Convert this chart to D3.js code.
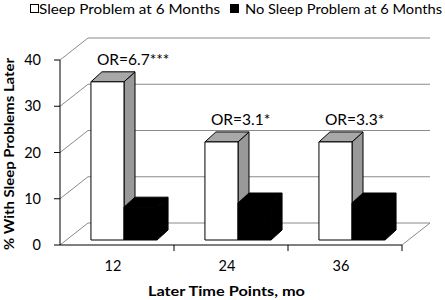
<!DOCTYPE html>
<html>
<head>
<meta charset="utf-8">
<script src="https://cdn.jsdelivr.net/npm/d3@7"></script>
<style>
  body { margin: 0; background: #fff; }
  svg { display: block; font-family: Lato, "Liberation Sans", sans-serif; }
</style>
</head>
<body>
<div class="canvas"></div>
<script>
const dims = { width: 445, height: 300 };

// data
const categories = ['12', '24', '36'];
const series = ['Sleep Problem at 6 Months', 'No Sleep Problem at 6 Months'];
const sleepProblem = [34.2, 21.2, 21.2];
const noSleepProblem = [7.1, 8.0, 8.0];
const orLabels = ['OR=6.7***', 'OR=3.1*', 'OR=3.3*'];
const yTicks = [0, 10, 20, 30, 40];

// 3d offsets
const depth = { dx: 28, dy: -22 };
const barFront = { dx: 7, dy: -5 };
const barDepth = { dx: 11, dy: -10 };

const svg = d3.select('.canvas')
  .append('svg')
    .attr('width', dims.width)
    .attr('height', dims.height);

// scales
const y = d3.scaleLinear()
  .domain([0, 40])
  .range([245, 60]);

const x0 = d3.scaleBand()
  .domain(categories)
  .range([60, 402])
  .paddingInner(0.42)
  .paddingOuter(0.21);

const x1 = d3.scaleBand()
  .domain(series)
  .range([0, x0.bandwidth()]);

const xLeft = 60, xRight = 402;
const grid = '#8a8a8a';

// back wall gridlines + side wall diagonals
const walls = svg.append('g');
yTicks.forEach(v => {
  walls.append('line')
    .attr('x1', xLeft + depth.dx).attr('x2', xRight + depth.dx)
    .attr('y1', y(v) + depth.dy).attr('y2', y(v) + depth.dy)
    .attr('stroke', grid);
  walls.append('line')
    .attr('x1', xLeft).attr('x2', xLeft + depth.dx)
    .attr('y1', y(v)).attr('y2', y(v) + depth.dy)
    .attr('stroke', grid);
});
// floor right edge
walls.append('line')
  .attr('x1', xRight).attr('x2', xRight + depth.dx)
  .attr('y1', y(0)).attr('y2', y(0) + depth.dy)
  .attr('stroke', grid);

// axes
const axes = svg.append('g').attr('stroke', '#000');
axes.append('line')
  .attr('x1', xLeft).attr('x2', xLeft)
  .attr('y1', y(40)).attr('y2', y(0));
yTicks.forEach(v => {
  axes.append('line')
    .attr('x1', xLeft - 6).attr('x2', xLeft)
    .attr('y1', y(v)).attr('y2', y(v));
});
axes.append('line')
  .attr('x1', xLeft).attr('x2', xRight)
  .attr('y1', y(0)).attr('y2', y(0));
categories.forEach(c => {
  const xt = x0(c) - x0.step() * x0.paddingOuter() + x0.step();
  axes.append('line')
    .attr('x1', xt).attr('x2', xt)
    .attr('y1', y(0)).attr('y2', y(0) + 6);
});

// bars
const bars = [];
categories.forEach((c, i) => {
  bars.push({ cat: c, s: series[0], v: sleepProblem[i], fill: '#fff', top: '#a8a8a8', side: '#999' });
  bars.push({ cat: c, s: series[1], v: noSleepProblem[i], fill: '#000', top: '#000', side: '#000' });
});

const barG = svg.append('g')
  .selectAll('g')
  .data(bars)
  .enter()
  .append('g')
    .attr('stroke', '#000')
    .attr('stroke-width', 1)
    .attr('stroke-linejoin', 'round');

const geom = d => {
  const L = x0(d.cat) + x1(d.s) + barFront.dx;
  const R = L + x1.bandwidth();
  const T = y(d.v) + barFront.dy;
  const B = y(0) + barFront.dy;
  return { L, R, T, B };
};

barG.append('polygon')
  .attr('fill', d => d.side)
  .attr('points', d => {
    const g = geom(d);
    return [[g.R, g.T], [g.R + barDepth.dx, g.T + barDepth.dy], [g.R + barDepth.dx, g.B + barDepth.dy], [g.R, g.B]].join(' ');
  });

barG.append('polygon')
  .attr('fill', d => d.top)
  .attr('points', d => {
    const g = geom(d);
    return [[g.L, g.T], [g.L + barDepth.dx, g.T + barDepth.dy], [g.R + barDepth.dx, g.T + barDepth.dy], [g.R, g.T]].join(' ');
  });

barG.append('rect')
  .attr('fill', d => d.fill)
  .attr('x', d => geom(d).L)
  .attr('y', d => geom(d).T)
  .attr('width', x1.bandwidth())
  .attr('height', d => geom(d).B - geom(d).T);

// OR labels
svg.append('g')
  .selectAll('text')
  .data(categories)
  .enter()
  .append('text')
    .attr('x', c => x0(c) + barFront.dx + 6)
    .attr('y', (c, i) => y(sleepProblem[i]) + barFront.dy - 17)
    .attr('font-size', 15.5)
    .attr('fill', '#000')
    .text((c, i) => orLabels[i]);

// y tick labels
svg.append('g')
  .selectAll('text')
  .data(yTicks)
  .enter()
  .append('text')
    .attr('x', 41)
    .attr('y', d => y(d))
    .attr('dy', '0.36em')
    .attr('text-anchor', 'end')
    .attr('font-size', 14.5)
    .text(d => d);

// x tick labels
svg.append('g')
  .selectAll('text')
  .data(categories)
  .enter()
  .append('text')
    .attr('x', c => x0(c) + x0.bandwidth() / 2 - 4)
    .attr('y', 271)
    .attr('text-anchor', 'middle')
    .attr('font-size', 14.5)
    .text(c => c);

// axis titles
svg.append('text')
  .attr('x', 226.5)
  .attr('y', 296)
  .attr('text-anchor', 'middle')
  .attr('font-size', 14)
  .attr('font-weight', 'bold')
  .attr('textLength', 157)
  .attr('lengthAdjust', 'spacingAndGlyphs')
  .text('Later Time Points, mo');

svg.append('text')
  .attr('transform', 'translate(14, 154) rotate(-90)')
  .attr('text-anchor', 'middle')
  .attr('font-size', 14)
  .attr('font-weight', 'bold')
  .attr('textLength', 192)
  .attr('lengthAdjust', 'spacingAndGlyphs')
  .text('% With Sleep Problems Later');

// legend
const legend = [
  { label: series[0], fill: '#fff', x: 30, tx: 37, w: 183 },
  { label: series[1], fill: '#000', x: 230, tx: 243, w: 199 }
];
const lg = svg.append('g')
  .selectAll('g')
  .data(legend)
  .enter()
  .append('g');

lg.append('rect')
  .attr('x', d => d.x + 0.5)
  .attr('y', 4.5)
  .attr('width', 8)
  .attr('height', 8)
  .attr('fill', d => d.fill)
  .attr('stroke', '#000');

lg.append('text')
  .attr('x', d => d.tx + 2)
  .attr('y', 14)
  .attr('font-size', 14)
  .attr('textLength', d => d.w - 2)
  .attr('lengthAdjust', 'spacingAndGlyphs')
  .text(d => d.label);
</script>
</body>
</html>
